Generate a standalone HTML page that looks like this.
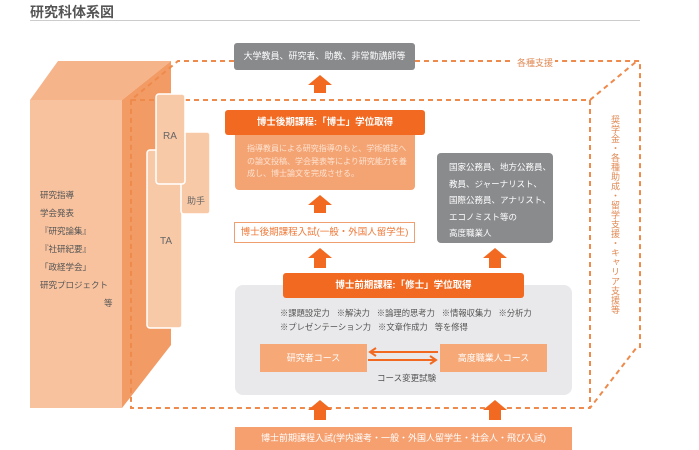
<!DOCTYPE html>
<html><head><meta charset="utf-8"><style>
body{margin:0;width:699px;height:450px;overflow:hidden;background:#fff;font-family:"Liberation Sans","Noto Sans CJK JP",sans-serif;position:relative}
.a{position:absolute}
.t{font-size:9px;white-space:nowrap}
</style></head><body>
<div class="a" style="left:30px;top:2px;font-size:14px;color:#555;font-weight:bold">研究科体系図</div>
<div class="a" style="left:30px;top:20px;width:610px;height:1px;background:#ccc"></div>
<svg class="a" style="left:0;top:0" width="699" height="450">
<polygon points="30,100 58,61 171,61 122,100" fill="#f6b48a"/>
<polygon points="122,100 171,61 171,345 122,408" fill="#f39b64"/>
<rect x="30" y="100" width="92" height="308" fill="#f8c29e"/>
<g stroke="#ee8a4c" stroke-width="2" stroke-dasharray="5,4" fill="none">
<polyline points="234,61 178,61 131,100 131,408 590,408 637,347 640,347 640,61 555,61"/>
<line x1="415" y1="61" x2="512" y2="61"/>
<polyline points="131,100 590,100 637,61"/>
<line x1="590" y1="100" x2="590" y2="408"/>
</g>
<rect x="147" y="150" width="35" height="178" rx="3" fill="#f8c9a7" stroke="#fff" stroke-width="1.5"/>
<rect x="181" y="132" width="29" height="82" rx="3" fill="#f8c9a7" stroke="#fff" stroke-width="1.5"/>
<rect x="156" y="94" width="29" height="90" rx="3" fill="#f8c9a7" stroke="#fff" stroke-width="1.5"/>
<rect x="235" y="285" width="337" height="110" rx="8" fill="#e9e9eb"/>
<g fill="#f26a21">
<polygon points="308,85 320,75 332,85 326,85 326,93 314,93 314,85"/>
<polygon points="308,205 320,195 332,205 326,205 326,213 314,213 314,205"/>
<polygon points="308,258 320,248 332,258 326,258 326,268 314,268 314,258"/>
<polygon points="483,258 495,248 507,258 501,258 501,268 489,268 489,258"/>
<polygon points="308,410 320,400 332,410 326,410 326,420 314,420 314,410"/>
<polygon points="483,410 495,400 507,410 501,410 501,420 489,420 489,410"/>
</g>
<g stroke="#f26a21" stroke-width="2" fill="none">
<line x1="370" y1="352" x2="438" y2="352"/><polyline points="376,348 370,352 376,356"/>
<line x1="368" y1="360" x2="436" y2="360"/><polyline points="430,356 436,360 430,364"/>
</g>
</svg>
<div class="a t" style="left:40px;top:186px;line-height:18px;color:#555;font-size:8.5px">研究指導<br>学会発表<br>『研究論集』<br>『社研紀要』<br>「政経学会」<br>研究プロジェクト<br><span style="padding-left:64px">等</span></div>
<div class="a t" style="left:163px;top:131px;color:#666;font-size:10px">RA</div>
<div class="a t" style="left:160px;top:236px;color:#666;font-size:10px">TA</div>
<div class="a t" style="left:187px;top:194px;color:#666">助手</div>
<div class="a t" style="left:517px;top:56px;color:#e08a55">各種支援</div>
<div class="a" style="left:610px;top:115px;writing-mode:vertical-rl;font-size:9px;line-height:10px;color:#e08a55;letter-spacing:0.5px">奨学金・各種助成・留学支援・キャリア支援等</div>
<div class="a t" style="left:234px;top:43px;width:181px;height:27px;background:#888a8c;border-radius:3px;color:#fff;line-height:27px;text-align:center">大学教員、研究者、助教、非常勤講師等</div>
<div class="a t" style="left:235px;top:130px;width:180px;height:60px;background:#f4a373;border-radius:4px;color:#fde3d0;font-size:8px;line-height:12.5px;padding:13px 0 0 12px;box-sizing:border-box">指導教員による研究指導のもと、学術雑誌へ<br>の論文投稿、学会発表等により研究能力を養<br>成し、博士論文を完成させる。</div>
<div class="a t" style="left:225px;top:110px;width:200px;height:25px;background:#f26a21;border-radius:3px;color:#fff;line-height:25px;text-align:center;font-weight:bold;font-size:9.5px">博士後期課程:「博士」学位取得</div>
<div class="a t" style="left:234px;top:222px;width:181px;height:21px;border:1px solid #f0a070;box-sizing:border-box;color:#ee7a3a;line-height:19px;text-align:center;font-size:9.5px">博士後期課程入試(一般・外国人留学生)</div>
<div class="a t" style="left:437px;top:153px;width:116px;height:90px;background:#8a8b8d;border-radius:4px;color:#fff;line-height:16.5px;padding:6px 0 0 12px;box-sizing:border-box;font-size:8.5px">国家公務員、地方公務員、<br>教員、ジャーナリスト、<br>国際公務員、アナリスト、<br>エコノミスト等の<br>高度職業人</div>
<div class="a t" style="left:283px;top:273px;width:241px;height:25px;background:#f26a21;border-radius:3px;color:#fff;line-height:25px;text-align:center;font-weight:bold;font-size:9.5px">博士前期課程:「修士」学位取得</div>
<div class="a t" style="left:280px;top:306px;color:#555;line-height:14px;font-size:8.3px">※課題設定力&nbsp;&nbsp;&nbsp;※解決力&nbsp;&nbsp;&nbsp;※論理的思考力&nbsp;&nbsp;&nbsp;※情報収集力&nbsp;&nbsp;&nbsp;※分析力<br>※プレゼンテーション力&nbsp;&nbsp;&nbsp;※文章作成力&nbsp;&nbsp;&nbsp;等を修得</div>
<div class="a t" style="left:260px;top:344px;width:107px;height:28px;background:#f6a877;color:#fff;line-height:28px;text-align:center">研究者コース</div>
<div class="a t" style="left:440px;top:344px;width:107px;height:28px;background:#f6a877;color:#fff;line-height:28px;text-align:center">高度職業人コース</div>
<div class="a t" style="left:377px;top:372px;color:#555;font-size:8.5px">コース変更試験</div>
<div class="a t" style="left:235px;top:427px;width:337px;height:23px;background:#f6a070;color:#fff;line-height:23px;text-align:center">博士前期課程入試(学内選考・一般・外国人留学生・社会人・飛び入試)</div>
</body></html>
